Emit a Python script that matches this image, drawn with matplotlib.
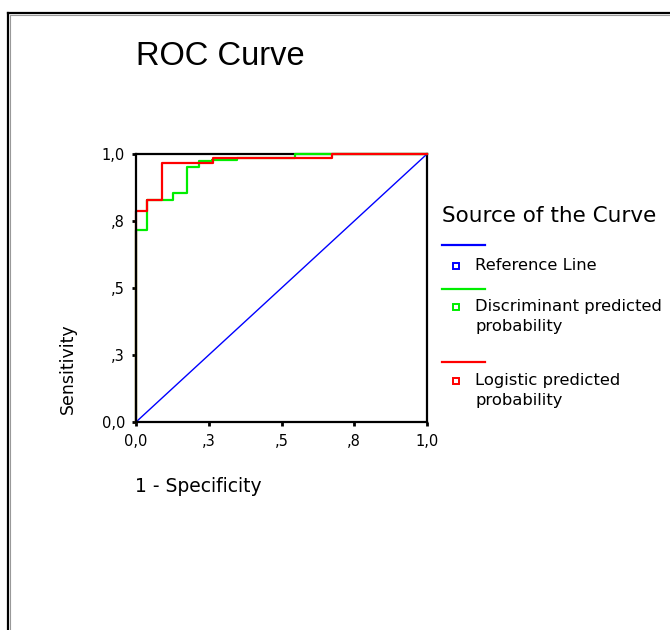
import matplotlib
matplotlib.use("Agg")
import matplotlib.pyplot as plt
from matplotlib.lines import Line2D

# ROC operating points (1 - specificity, sensitivity)
ref_fpr = [0.0, 1.0]
ref_tpr = [0.0, 1.0]

disc_fpr = [0.0, 0.0, 0.037, 0.128, 0.176, 0.216, 0.262, 0.347, 0.546, 1.0]
disc_tpr = [0.0, 0.716, 0.828, 0.856, 0.950, 0.973, 0.979, 0.986, 1.0, 1.0]

logit_fpr = [0.0, 0.0, 0.037, 0.088, 0.264, 0.675, 1.0]
logit_tpr = [0.0, 0.788, 0.828, 0.966, 0.986, 1.0, 1.0]

tick_values = [0.0, 0.25, 0.5, 0.75, 1.0]
tick_labels = ["0,0", ",3", ",5", ",8", "1,0"]

series_names = ["Reference Line", "Discriminant predicted\nprobability",
                "Logistic predicted\nprobability"]
series_colors = ["#0000ff", "#00ee00", "#ff0000"]

W, H = 670, 630
fig = plt.figure(figsize=(W / 100, H / 100), dpi=100)
fig.patch.set_facecolor("white")


def fx(x):
    return x / W


def fy(y):
    return 1 - y / H


# panel frame (left and top edges)
fig.add_artist(Line2D([fx(7.5), fx(7.5)], [fy(12.5), fy(H)], color="black",
                      lw=1.6, transform=fig.transFigure))
fig.add_artist(Line2D([fx(7.5), fx(W)], [fy(12.5), fy(12.5)], color="black",
                      lw=1.6, transform=fig.transFigure))
fig.add_artist(Line2D([fx(9.8), fx(9.8)], [fy(14.8), fy(H)], color="#999999",
                      lw=0.8, transform=fig.transFigure))
fig.add_artist(Line2D([fx(9.8), fx(W)], [fy(14.8), fy(14.8)], color="#999999",
                      lw=0.8, transform=fig.transFigure))

ax = fig.add_axes([fx(136), fy(422), (427 - 136) / W, (422 - 154) / H])
ax.set_xlim(0, 1)
ax.set_ylim(0, 1)

ax.plot(ref_fpr, ref_tpr, color=series_colors[0], lw=1.0, zorder=3,
        clip_on=False)
ax.step(disc_fpr, disc_tpr, where="post", color=series_colors[1], lw=1.6,
        zorder=3, clip_on=False)
ax.step(logit_fpr, logit_tpr, where="post", color=series_colors[2], lw=1.6,
        zorder=4, clip_on=False)

for s in ax.spines.values():
    s.set_linewidth(1.6)
    s.set_color("black")
# the vertical axis line sits above the curves' first rise
ax.spines["left"].set_zorder(5)
ax.spines["bottom"].set_zorder(5)

ax.set_xticks(tick_values)
ax.set_xticklabels(tick_labels)
ax.set_yticks(tick_values)
ax.set_yticklabels(tick_labels)
ax.tick_params(axis="both", direction="out", length=3, width=2,
               labelsize=10.5, color="black")
ax.tick_params(axis="x", pad=6)
ax.tick_params(axis="y", pad=5)

ax.set_xlabel("1 - Specificity", fontsize=13.5, ha="left", va="center")
ax.xaxis.set_label_coords((135 - 136) / 291, (422 - 486) / 268)
ax.set_ylabel("Sensitivity", fontsize=12.5, ha="center", va="center")
ax.yaxis.set_label_coords((68 - 136) / 291, (422 - 369) / 268)

fig.text(fx(136), fy(65), "ROC Curve", fontsize=23.5,
         family="Liberation Sans", ha="left", va="baseline")

# legend
fig.text(fx(442), fy(216), "Source of the Curve", fontsize=15.5,
         ha="left", va="center")
line_y = [245, 289, 362]
mark_y = [266, 307, 381]
for name, col, ly, my in zip(series_names, series_colors, line_y, mark_y):
    fig.add_artist(Line2D([fx(442), fx(485)], [fy(ly), fy(ly)], color=col,
                          lw=1.6, transform=fig.transFigure))
    fig.add_artist(Line2D([fx(456)], [fy(my)], color=col, marker="s",
                          markersize=4.5, markerfacecolor="white",
                          markeredgewidth=1.4, linestyle="none",
                          transform=fig.transFigure))
    fig.text(fx(475), fy(my - 8), name, fontsize=11.8, ha="left", va="top",
             linespacing=1.45)

fig.savefig("out.png", dpi=100, facecolor="white")
